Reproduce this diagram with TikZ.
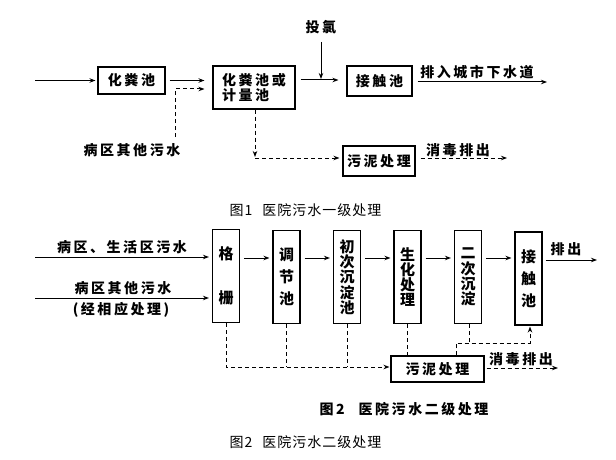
\documentclass[tikz,border=0pt]{standalone}
\usepackage{fontspec}
\newfontfamily\cjk{Noto Sans CJK SC}[LetterSpace=18]
\newfontfamily\cjkv{Noto Sans CJK SC}
\newfontfamily\cjkr{Noto Sans CJK SC}[LetterSpace=7]
\usetikzlibrary{arrows.meta}
\tikzset{
  lbl/.style={font=\cjk\bfseries\fontsize{14}{15}\selectfont, inner sep=0},
  captext/.style={font=\cjkr\fontsize{14}{15}\selectfont, inner sep=0},
  box/.style={draw, line width=1.1pt, inner sep=0, align=center, font=\cjk\bfseries\fontsize{14}{15}\selectfont},
  vbox/.style={box, minimum width=27pt, minimum height=93pt, font=\cjkv\bfseries\fontsize{15}{15.2}\selectfont},
  flow/.style={line width=1pt, -{Stealth[length=6pt,width=4.5pt]}},
  dflow/.style={flow, dash pattern=on 4pt off 3pt},
  dline/.style={line width=1pt, dash pattern=on 4pt off 3pt},
}
\begin{document}
\begin{tikzpicture}[x=1pt,y=-1pt]
\useasboundingbox (0,0) rectangle (616,460);
% ---------- Figure 1 ----------
\node[box, minimum width=67pt, minimum height=27pt] (b1) at (131.5,80.5) {化粪池};
\node[box, minimum width=82pt, minimum height=43pt, align=left] (b2) at (254,87.5) {化粪池或\\计量池};
\node[box, minimum width=65pt, minimum height=30pt] (b3) at (379.5,81) {接触池};
\node[box, minimum width=72pt, minimum height=30pt] (b4) at (379,161) {污泥处理};
\node[lbl] (l1) at (132,150) {病区其他污水};
\node[lbl] (l2) at (321,27) {投氯};
\node[lbl] (l3) at (477,72) {排入城市下水道};
\node[lbl] (l4) at (458,150) {消毒排出};
\node[captext] (c1) at (305.5,210) {图1\hspace{10pt}医院污水一级处理};
\coordinate (in1) at (35,80.5);
\coordinate (src1) at (175,137);
\coordinate (chl) at (321,42);
\coordinate (out1) at (547,82);
\coordinate (out2) at (507,158);
\coordinate (t1) at (255,157);
\draw[flow, shorten >=2pt] (in1) -- (b1.west);
\draw[flow, shorten <=4pt, shorten >=8pt] (b1.east) -- (b2.west |- b1.east);
\draw[dflow, shorten >=8pt] (src1) |- (b2.west |- 0,89);
\draw[flow, shorten <=5pt, shorten >=8pt] (b2.east |- 0,80) -- (b3.west |- 0,80);
\draw[flow, shorten >=1pt] (chl) -- (chl |- 0,80);
\draw[flow, shorten <=5pt] (b3.east |- out1) -- (out1);
\draw[dflow] (b2.south -| t1) -- (t1);
\draw[dflow, shorten >=3pt] (t1 |- 0,158) -- (b4.west |- 0,158);
\draw[dflow, shorten <=5pt] (b4.east |- out2) -- (out2);
% ---------- Figure 2 ----------
\node[vbox] (g1) at (226,276) {格\\[29pt]栅};
\node[vbox] (g2) at (286.5,277) {调\\[7pt]节\\[7pt]池};
\node[vbox] (g3) at (347,277) {初\\次\\沉\\淀\\池};
\node[vbox] (g4) at (407.5,277) {生\\化\\处\\理};
\node[vbox] (g5) at (468,277) {二\\次\\沉\\淀};
\node[vbox] (g6) at (528.5,278.5) {接\\[7pt]触\\[7pt]池};
\node[box, minimum width=93pt, minimum height=26pt] (s) at (437.5,369) {污泥处理};
\node[lbl] (m1) at (122,247) {病区、生活区污水};
\node[lbl] (m2) at (123,288) {病区其他污水};
\node[lbl] (m3) at (121,310) {(经相应处理)};
\node[lbl] (m4) at (566,249) {排出};
\node[lbl] (m5) at (521,359) {消毒排出};
\node[lbl] (c2) at (404,409) {图2\hspace{14pt}医院污水二级处理};
\node[captext] (c3) at (305.5,442) {图2\hspace{10pt}医院污水二级处理};
\coordinate (i1) at (35,257);
\coordinate (i2) at (35,298);
\coordinate (o1) at (597,260);
\coordinate (o2) at (558,368);
\coordinate (j) at (456,343);
\coordinate (k) at (530,343);
\draw[flow, shorten >=3pt] (i1) -- (g1.west |- i1);
\draw[flow, shorten >=3pt] (i2) -- (g1.west |- i2);
\foreach \a/\b in {g1/g2,g2/g3,g3/g4,g4/g5,g5/g6}
  \draw[flow, shorten <=4pt, shorten >=3pt] (\a.east |- 0,258) -- (\b.west |- 0,258);
\draw[flow, shorten <=3pt] (g6.east |- o1) -- (o1);
\draw[dflow, shorten >=1pt] (g1.south) |- (s.west |- 0,367);
\draw[dline] (g2.south) -- (g2.south |- 0,367);
\draw[dline] (g3.south) -- (g3.south |- 0,367);
\draw[dline] (g4.south) -- (g4.south |- s.north);
\draw[dline] (g5.south -| 469,0) -- (469,343);
\draw[dflow, shorten >=1pt] (s.north -| j) -- (j) -- (k) -- (g6.south -| k);
\draw[dflow, shorten <=2pt] (s.east |- o2) -- (o2);
\end{tikzpicture}
\end{document}
